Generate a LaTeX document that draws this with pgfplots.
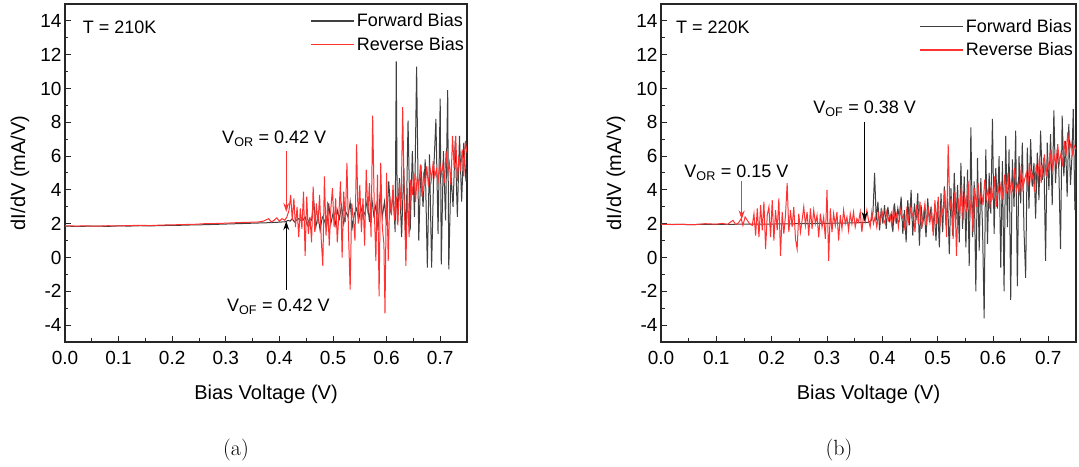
\documentclass[border=0pt]{standalone}
\usepackage{pgfplots}
\pgfplotsset{compat=1.18}
\usepackage{fontspec}
\newfontfamily\arial{Liberation Sans}
\usetikzlibrary{arrows.meta}
\definecolor{fwd}{RGB}{64,64,64}
\definecolor{rev}{RGB}{255,50,50}
\pgfplotsset{
  myax/.style={
    scale only axis, height=338pt,
    xmin=0, xmax=0.75, ymin=-5, ymax=15,
    xtick={0,0.1,0.2,0.3,0.4,0.5,0.6,0.7},
    xticklabels={0.0,0.1,0.2,0.3,0.4,0.5,0.6,0.7},
    ytick={-4,-2,0,2,4,6,8,10,12,14},
    yticklabels={-4,-2,0,2,4,6,8,10,12,14},
    minor x tick num=1, minor y tick num=1,
    tick align=inside, xtick pos=bottom, ytick pos=left,
    major tick length=6pt, minor tick length=3.5pt,
    axis line style={line width=1.2pt, draw=black!85},
    every tick/.style={line width=1pt, draw=black!85},
    tick label style={font=\arial\fontsize{19}{21}\selectfont},
    xticklabel style={yshift=-6pt},
    xlabel={Bias Voltage (V)}, ylabel={dI/dV (mA/V)},
    every axis y label/.style={at={(axis description cs:0,0.5)}, xshift=-45pt, rotate=90, anchor=center,
      font=\arial\fontsize{20}{22}\selectfont},
    every axis x label/.style={at={(axis description cs:0.5,0)}, yshift=-52pt, anchor=center,
      font=\arial\fontsize{20}{22}\selectfont},
    legend style={at={(axis description cs:1,0.981)}, anchor=north east, draw=none, fill=none,
      font=\arial\fontsize{18}{20}\selectfont, row sep=5pt, inner sep=1pt},
    legend cell align=left,
    legend image code/.code={\draw[#1, line width=1.3pt] (0pt,0pt) -- (43pt,0pt);},
  }
}
\begin{document}
\begin{tikzpicture}
\path[use as bounding box] (0,0) rectangle (1079pt,466pt);
% ---------------- (a) ----------------
\begin{axis}[myax, at={(65pt,124pt)}, anchor=south west, width=402pt]
\addplot[draw=fwd, line width=1pt] coordinates {
(0.000,1.86)(0.020,1.84)(0.040,1.85)(0.060,1.86)(0.080,1.84)(0.100,1.87)(0.120,1.86)(0.140,1.88)
(0.160,1.87)(0.180,1.89)(0.200,1.90)(0.220,1.91)(0.240,1.93)(0.260,1.94)(0.280,1.96)(0.300,1.98)
(0.320,2.00)(0.340,2.02)(0.360,2.04)(0.380,2.06)(0.400,2.09)(0.412,2.12)(0.416,2.20)(0.420,2.15)
(0.424,2.3)(0.428,2.1)(0.432,2.2)(0.436,2.3)(0.440,2.2)(0.444,2.2)(0.448,2.4)(0.452,1.9)
(0.456,2.3)(0.460,2.2)(0.464,3.4)(0.468,1.8)(0.472,2.5)(0.476,1.6)(0.480,2.4)(0.484,2.2)
(0.488,1.7)(0.492,3.2)(0.496,2.0)(0.500,2.6)(0.504,1.9)(0.508,2.8)(0.512,2.3)(0.516,3.1)
(0.520,2.0)(0.524,2.7)(0.528,2.4)(0.532,3.3)(0.536,1.8)(0.540,2.6)(0.544,2.9)(0.548,2.2)
(0.552,3.0)(0.556,2.4)(0.560,2.7)(0.564,3.4)(0.568,2.1)(0.572,3.6)(0.576,2.5)(0.580,3.1)
(0.584,1.6)(0.588,3.9)(0.592,2.4)(0.596,3.3)(0.600,1.9)(0.604,4.5)(0.608,2.6)(0.612,3.8)
(0.616,1.5)(0.618,11.6)(0.620,2.0)(0.624,4.7)(0.628,1.2)(0.632,5.3)(0.636,0.8)(0.640,8.1)
(0.644,1.6)(0.648,6.3)(0.652,2.4)(0.656,11.3)(0.660,1.0)(0.664,5.5)(0.668,3.0)(0.672,5.8)
(0.676,-0.6)(0.680,6.1)(0.684,-0.6)(0.688,5.2)(0.692,8.2)(0.696,1.4)(0.700,9.4)(0.702,-0.4)
(0.706,6.3)(0.710,2.2)(0.714,9.9)(0.716,-0.7)(0.720,5.0)(0.724,3.0)(0.728,6.9)(0.732,2.4)
(0.736,7.2)(0.740,3.3)(0.744,6.8)(0.748,4.5)(0.750,5.0)
};
\addlegendentry{Forward Bias}
\addplot[draw=rev, line width=1pt] coordinates {
(0.000,1.88)(0.020,1.86)(0.040,1.87)(0.060,1.85)(0.080,1.88)(0.100,1.87)(0.120,1.89)(0.140,1.90)
(0.160,1.89)(0.180,1.92)(0.200,1.93)(0.220,1.95)(0.240,1.96)(0.260,2.00)(0.280,2.01)(0.300,2.03)
(0.320,2.06)(0.340,2.08)(0.360,2.10)(0.370,2.15)(0.380,2.30)(0.385,2.10)(0.390,2.20)(0.395,2.35)
(0.400,2.15)(0.405,2.30)(0.410,2.20)(0.414,2.40)
(0.418,2.8)(0.421,3.7)(0.424,2.2)(0.427,3.5)(0.430,1.8)(0.433,3.0)(0.436,1.2)(0.439,2.9)
(0.442,1.7)(0.445,3.9)(0.448,0.1)(0.451,3.6)(0.454,1.4)(0.457,2.4)(0.460,0.9)(0.463,4.2)
(0.466,1.5)(0.469,3.2)(0.472,2.0)(0.475,3.7)(0.478,1.1)(0.481,-0.5)(0.484,4.8)(0.487,1.3)
(0.490,3.3)(0.493,0.7)(0.496,2.9)(0.499,4.1)(0.502,1.8)(0.505,3.5)(0.508,0.9)(0.511,2.6)
(0.514,4.5)(0.517,0.0)(0.520,3.9)(0.523,2.1)(0.526,5.6)(0.529,1.4)(0.532,-1.9)(0.535,3.2)
(0.538,2.3)(0.541,1.0)(0.544,6.7)(0.547,2.0)(0.550,4.3)(0.553,1.5)(0.556,3.5)(0.559,0.7)
(0.562,5.2)(0.565,2.6)(0.568,4.4)(0.571,1.2)(0.574,8.4)(0.577,2.9)(0.580,-0.2)(0.583,4.9)
(0.586,-2.3)(0.589,5.6)(0.592,1.8)(0.595,0.8)(0.597,-3.3)(0.600,5.0)(0.603,-0.2)(0.606,3.6)
(0.609,2.5)(0.612,4.3)(0.615,2.2)(0.618,3.6)(0.621,1.9)(0.624,4.4)(0.627,2.8)(0.630,8.9)
(0.633,3.3)(0.636,-0.5)(0.639,4.1)(0.642,1.2)(0.645,4.6)(0.648,3.7)(0.651,5.0)(0.654,3.3)
(0.657,4.8)(0.660,4.1)(0.663,5.5)(0.666,3.6)(0.669,4.9)(0.672,4.3)(0.675,5.4)(0.678,4.2)
(0.681,5.3)(0.684,4.6)(0.687,5.7)(0.690,4.8)(0.693,5.2)(0.696,4.5)(0.699,5.6)(0.702,4.9)
(0.705,5.5)(0.708,4.4)(0.711,6.3)(0.714,5.0)(0.717,5.6)(0.720,4.3)(0.723,7.2)(0.726,5.3)
(0.729,7.2)(0.732,4.5)(0.735,6.0)(0.738,5.1)(0.741,6.4)(0.744,4.8)(0.747,6.9)(0.750,6.2)
};
\addlegendentry{Reverse Bias}
\node[anchor=west, font=\arial\fontsize{18}{20}\selectfont, inner sep=0pt] at (axis cs:0.033,13.6) {T = 210K};
\node[anchor=west, font=\arial\fontsize{18}{20}\selectfont, inner sep=0pt] at (axis cs:0.293,7.0) {V\textsubscript{OR} = 0.42 V};
\node[anchor=west, font=\arial\fontsize{18}{20}\selectfont, inner sep=0pt] at (axis cs:0.302,-2.9) {V\textsubscript{OF} = 0.42 V};
\draw[draw=rev, line width=1.3pt, -{Stealth[length=9pt,width=6pt,fill=rev]}] (axis cs:0.4128,6.3) -- (axis cs:0.4128,2.7);
\draw[draw=black, line width=1.2pt, -{Stealth[length=9pt,width=6pt,fill=black]}] (axis cs:0.4128,-1.9) -- (axis cs:0.4128,2.15);
\end{axis}
% ---------------- (b) ----------------
\begin{axis}[myax, at={(661pt,124pt)}, anchor=south west, width=415pt,
  legend style={at={(axis description cs:1,0.9645)}}]
\addplot[draw=fwd, line width=1pt] coordinates {
(0.000,1.97)(0.050,1.95)(0.100,1.96)(0.150,1.97)(0.200,1.98)(0.250,2.00)(0.300,2.02)(0.350,2.05)
(0.375,2.08)(0.380,2.2)
(0.383,2.6)(0.386,5.0)(0.389,2.2)(0.392,3.3)(0.395,1.6)(0.398,2.9)(0.401,2.0)(0.404,3.1)
(0.407,1.7)(0.410,3.0)(0.413,2.2)(0.416,2.6)(0.419,1.5)(0.422,3.2)(0.425,2.0)(0.428,2.9)
(0.431,2.3)(0.434,3.6)(0.437,1.4)(0.440,2.8)(0.443,0.9)(0.446,3.4)(0.449,1.9)(0.452,4.0)
(0.455,1.3)(0.458,3.2)(0.461,2.2)(0.464,3.8)(0.467,0.7)(0.470,3.1)(0.473,2.0)(0.476,2.7)
(0.479,1.2)(0.482,3.5)(0.485,2.1)(0.488,3.0)(0.491,1.8)(0.494,2.6)(0.497,1.0)(0.500,3.3)
(0.503,0.6)(0.506,3.8)(0.509,1.5)(0.512,4.2)(0.515,1.9)(0.518,3.5)(0.521,0.2)(0.524,4.1)
(0.527,1.3)(0.530,5.0)(0.533,2.2)(0.536,4.3)(0.539,0.9)(0.542,5.6)(0.545,1.7)(0.548,4.8)
(0.551,0.6)(0.554,5.2)(0.557,-0.5)(0.560,7.7)(0.563,1.2)(0.566,4.5)(0.569,-2.0)(0.572,5.9)
(0.575,0.4)(0.578,4.7)(0.581,1.9)(0.584,-3.6)(0.587,6.4)(0.590,0.8)(0.593,5.0)(0.596,2.6)
(0.599,8.2)(0.602,1.4)(0.605,5.3)(0.608,2.9)(0.611,6.0)(0.614,-0.6)(0.617,5.7)(0.620,-2.0)
(0.623,7.2)(0.626,1.8)(0.629,6.4)(0.632,-2.5)(0.635,5.8)(0.638,3.0)(0.641,7.5)(0.644,-1.7)
(0.647,6.0)(0.650,3.2)(0.653,6.8)(0.656,1.6)(0.659,-1.2)(0.662,6.5)(0.665,2.9)(0.668,7.0)
(0.671,4.2)(0.674,5.6)(0.677,2.3)(0.680,6.2)(0.683,3.4)(0.686,7.5)(0.689,4.6)(0.692,5.9)
(0.695,-0.2)(0.698,6.8)(0.701,4.0)(0.704,7.3)(0.707,3.1)(0.710,8.7)(0.713,4.4)(0.716,6.4)
(0.719,5.2)(0.722,0.5)(0.725,8.4)(0.728,4.8)(0.731,6.9)(0.734,3.6)(0.737,7.9)(0.740,4.3)
(0.743,6.2)(0.745,8.8)(0.748,2.8)(0.750,6.0)
};
\addlegendentry{Forward Bias}
\addplot[draw=rev, line width=1pt] coordinates {
(0.000,1.97)(0.020,1.95)(0.040,1.96)(0.060,1.94)(0.080,2.00)(0.100,1.97)(0.110,2.02)(0.120,1.96)
(0.130,2.20)(0.135,1.95)(0.140,2.05)(0.145,2.30)(0.148,1.90)(0.152,2.40)(0.156,2.20)(0.160,2.00)
(0.165,1.90)
(0.168,2.6)(0.171,1.3)(0.174,2.9)(0.177,1.2)(0.180,3.1)(0.183,1.6)(0.186,3.3)(0.189,0.5)
(0.192,2.5)(0.195,3.0)(0.198,1.2)(0.201,3.4)(0.204,1.0)(0.207,2.8)(0.210,1.6)(0.213,3.5)
(0.216,0.1)(0.219,2.7)(0.222,1.4)(0.225,2.5)(0.228,4.4)(0.231,1.5)(0.234,2.8)(0.237,1.8)
(0.240,3.0)(0.243,1.1)(0.246,0.5)(0.249,2.6)(0.252,1.5)(0.255,2.2)(0.258,3.0)(0.261,1.9)
(0.264,2.7)(0.267,1.3)(0.270,2.9)(0.273,1.7)(0.276,2.8)(0.279,2.0)(0.282,2.5)(0.285,1.2)
(0.288,2.6)(0.291,1.8)(0.294,2.4)(0.297,1.1)(0.300,4.0)(0.303,-0.2)(0.306,2.9)(0.309,1.5)
(0.312,2.6)(0.315,1.9)(0.318,2.7)(0.321,1.0)(0.324,2.5)(0.327,1.7)(0.330,2.8)(0.333,2.0)
(0.336,2.4)(0.339,1.6)(0.342,2.6)(0.345,2.0)(0.348,2.7)(0.351,1.8)(0.354,2.3)(0.357,2.1)
(0.360,2.7)(0.363,1.5)(0.366,2.5)(0.369,2.1)(0.372,2.8)(0.375,2.2)(0.378,1.8)(0.381,2.7)
(0.384,2.0)(0.387,2.4)(0.390,1.8)(0.393,2.6)(0.396,2.1)(0.399,2.8)(0.402,2.3)(0.405,2.0)
(0.408,2.7)(0.411,2.2)(0.414,2.5)(0.417,1.9)(0.420,2.9)(0.423,2.2)(0.426,2.6)(0.429,1.8)
(0.432,2.9)(0.435,2.3)(0.438,2.5)(0.441,1.6)(0.444,2.8)(0.447,2.1)(0.450,3.0)(0.453,2.4)
(0.456,2.7)(0.459,1.5)(0.462,3.1)(0.465,2.0)(0.468,3.3)(0.471,1.7)(0.474,2.5)(0.477,3.2)
(0.480,1.9)(0.483,3.0)(0.486,2.1)(0.489,2.8)(0.492,1.3)(0.495,3.4)(0.498,2.0)(0.501,3.6)
(0.504,1.8)(0.507,3.1)(0.510,2.5)(0.513,4.0)(0.516,1.2)(0.519,6.7)(0.522,2.8)(0.525,3.5)
(0.528,1.1)(0.531,3.9)(0.534,0.1)(0.537,3.5)(0.540,2.6)(0.543,4.3)(0.546,2.2)(0.549,3.6)
(0.552,2.9)(0.555,4.5)(0.558,2.4)(0.561,3.7)(0.564,1.5)(0.567,4.1)(0.570,3.0)(0.573,4.4)
(0.576,3.2)(0.579,3.9)(0.582,3.1)(0.585,4.6)(0.588,3.5)(0.591,4.0)(0.594,2.9)(0.597,4.3)
(0.600,3.4)(0.603,4.8)(0.606,3.0)(0.609,4.2)(0.612,3.6)(0.615,4.5)(0.618,3.4)(0.621,4.9)
(0.624,3.8)(0.627,5.0)(0.630,3.6)(0.633,4.6)(0.636,4.0)(0.639,5.3)(0.642,3.9)(0.645,4.4)
(0.648,3.7)(0.651,5.4)(0.654,4.1)(0.657,4.6)(0.660,5.0)(0.663,4.2)(0.666,5.6)(0.669,4.5)
(0.672,4.9)(0.675,3.9)(0.678,5.5)(0.681,4.7)(0.684,5.9)(0.687,4.4)(0.690,5.3)(0.693,6.1)
(0.696,4.8)(0.699,5.7)(0.702,5.1)(0.705,6.4)(0.708,5.3)(0.711,6.0)(0.714,5.5)(0.717,6.7)
(0.720,5.6)(0.723,6.2)(0.726,5.4)(0.729,6.9)(0.732,6.0)(0.735,7.4)(0.738,6.3)(0.741,6.8)
(0.744,6.1)(0.747,6.6)(0.750,6.4)
};
\addlegendentry{Reverse Bias}
\node[anchor=west, font=\arial\fontsize{18}{20}\selectfont, inner sep=0pt] at (axis cs:0.027,13.6) {T = 220K};
\node[anchor=west, font=\arial\fontsize{18}{20}\selectfont, inner sep=0pt] at (axis cs:0.042,5.0) {V\textsubscript{OR} = 0.15 V};
\node[anchor=west, font=\arial\fontsize{18}{20}\selectfont, inner sep=0pt] at (axis cs:0.275,8.8) {V\textsubscript{OF} = 0.38 V};
\draw[draw=rev, line width=1.3pt, -{Stealth[length=9pt,width=6pt,fill=rev]}] (axis cs:0.1458,4.5) -- (axis cs:0.1458,2.25);
\draw[draw=black, line width=1.2pt, -{Stealth[length=9pt,width=6pt,fill=black]}] (axis cs:0.368,8.0) -- (axis cs:0.368,2.15);
\end{axis}
\node[font=\fontsize{22}{24}\selectfont] at (236pt,16pt) {(a)};
\node[font=\fontsize{22}{24}\selectfont] at (839pt,16pt) {(b)};
\end{tikzpicture}
\end{document}
